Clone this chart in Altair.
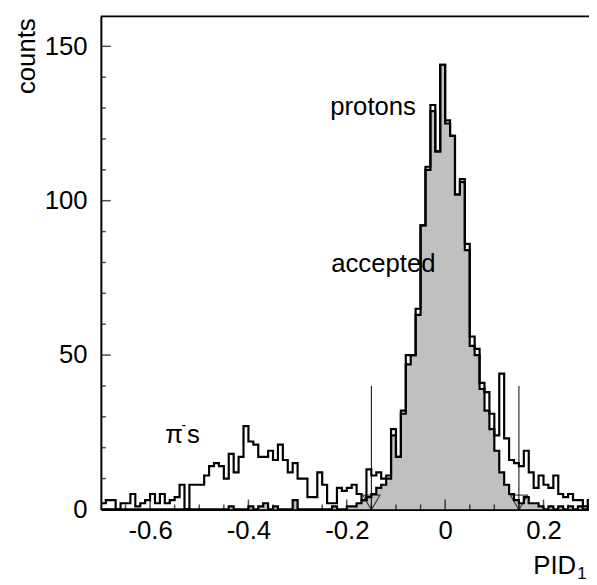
import altair as alt
import pandas as pd

# ---------------- data ----------------
x_start = -0.7
bin_width = 0.01

total_counts = [
    2, 3, 3, 0, 2, 2, 5, 1, 2, 3,
    5, 2, 5, 2, 3, 4, 8, 0, 8, 8,
    8, 11, 14, 15, 14, 10, 18, 12, 17, 27,
    22, 21, 17, 17, 19, 16, 21, 16, 12, 15,
    10, 10, 4, 4, 12, 8, 2, 2, 7, 6,
    7, 8, 5, 3, 13, 11, 12, 10, 11, 26,
    17, 32, 50, 50, 65, 92, 111, 131, 116, 144,
    126, 121, 102, 107, 86, 56, 52, 41, 38, 31,
    24, 44, 23, 16, 15, 14, 19, 12, 7, 11,
    8, 7, 11, 5, 4, 5, 3, 3, 1, 3,
]

accepted_counts = [
    0, 0, 0, 0, 0, 0, 0, 0, 0, 0,
    0, 0, 0, 0, 0, 0, 0, 0, 0, 0,
    0, 0, 0, 0, 0, 0, 1, 0, 0, 0,
    1, 0, 1, 2, 0, 1, 0, 0, 0, 3,
    0, 0, 0, 0, 0, 0, 0, 1, 0, 0,
    1, 1, 2, 3, 4, 5, 7, 8, 10, 24,
    17, 31, 47, 50, 63, 92, 110, 129, 116, 144,
    125, 121, 102, 106, 84, 53, 50, 39, 32, 26,
    19, 12, 8, 5, 3, 2, 4, 2, 2, 1,
    0, 1, 0, 1, 0, 1, 0, 1, 0, 1,
]

cut_positions = [-0.15, 0.15]
cut_height = [40, 40]

x_major = [-0.6, -0.4, -0.2, 0.0, 0.2]
x_minor = [-0.65, -0.55, -0.5, -0.45, -0.35, -0.3, -0.25, -0.15, -0.1, -0.05,
           0.05, 0.1, 0.15, 0.25]
y_major = [0, 50, 100, 150]
y_minor = [10, 20, 30, 40, 60, 70, 80, 90, 110, 120, 130, 140]

label_text = ["protons", "accepted"]
label_x = [-0.2336, -0.2316]
label_y = [127.6, 76.8]

# ---------------- tables ----------------
n = len(total_counts)
edges = [round(x_start + bin_width * i, 4) for i in range(n + 1)]
hist = pd.DataFrame({
    "x": edges,
    "total": total_counts + [total_counts[-1]],
    "accepted": accepted_counts + [accepted_counts[-1]],
})
cuts = pd.DataFrame({"x": cut_positions, "top": cut_height, "zero": [0, 0]})
labels = pd.DataFrame({"text": label_text, "x": label_x, "y": label_y})

W, H = 494, 499
FONT = "Liberation Sans"
FS = 26

xs = alt.Scale(domain=[-0.7, 0.2925], nice=False, zero=False)
ys = alt.Scale(domain=[0, 159.7], nice=False, zero=False)

x_axis = alt.Axis(
    values=x_major, title=None, grid=False, ticks=False, tickSize=0,
    domain=True, domainColor="black", domainWidth=2,
    labelFont=FONT, labelFontSize=FS, labelColor="black", labelPadding=8,
    labelFlush=False, labelOverlap=False,
    labelExpr="datum.value == 0 ? '0' : (datum.value < 0 ? '-' + format(-datum.value, '.1f') : format(datum.value, '.1f'))",
)
y_axis = alt.Axis(
    values=y_major, title=None, grid=False, ticks=False, tickSize=0,
    domain=True, domainColor="black", domainWidth=2,
    labelFont=FONT, labelFontSize=FS, labelColor="black", labelPadding=14,
    labelFlush=False, labelOverlap=False, format="d",
)


def X(f):
    return alt.X(f, scale=xs, axis=x_axis)


def Y(f):
    return alt.Y(f, scale=ys, axis=y_axis)


base = alt.Chart(hist)

area = base.mark_area(interpolate="step-after", color="#c0c0c0", clip=True).encode(
    x=X("x:Q"), y=Y("accepted:Q"),
)
line_acc = base.mark_line(interpolate="step-after", color="black", strokeWidth=2.2, clip=True).encode(
    x=X("x:Q"), y=Y("accepted:Q"),
)
line_tot = base.mark_line(interpolate="step-after", color="black", strokeWidth=2.2, clip=True).encode(
    x=X("x:Q"), y=Y("total:Q"),
)

cut_lines = alt.Chart(cuts).mark_rule(color="black", strokeWidth=1).encode(
    x=X("x:Q"), y=Y("zero:Q"), y2="top:Q",
)
cut_arrows = alt.Chart(cuts).mark_point(
    shape="triangle-down", filled=False, color="black", strokeWidth=1.2, size=300, yOffset=-7
).encode(x=X("x:Q"), y=Y("zero:Q"))

# inward ticks
yt_major = alt.Chart(pd.DataFrame({"v": y_major})).mark_tick(
    orient="horizontal", size=10, thickness=1.5, color="black"
).encode(y=Y("v:Q"), x=alt.value(5))
yt_minor = alt.Chart(pd.DataFrame({"v": y_minor})).mark_tick(
    orient="horizontal", size=5, thickness=1.5, color="black"
).encode(y=Y("v:Q"), x=alt.value(2.5))
xt_major = alt.Chart(pd.DataFrame({"v": x_major})).mark_tick(
    orient="vertical", size=10, thickness=1.5, color="black"
).encode(x=X("v:Q"), y=alt.value(H - 5))
xt_minor = alt.Chart(pd.DataFrame({"v": x_minor})).mark_tick(
    orient="vertical", size=5, thickness=1.5, color="black"
).encode(x=X("v:Q"), y=alt.value(H - 2.5))

top_frame = alt.Chart(pd.DataFrame({"a": [0]})).mark_rule(color="black", strokeWidth=2).encode(
    x=alt.value(0), x2=alt.value(W), y=alt.value(0)
)

text_labels = alt.Chart(labels).mark_text(
    font=FONT, fontSize=FS, align="left", baseline="alphabetic", color="black"
).encode(x=X("x:Q"), y=Y("y:Q"), text="text:N")

pi_df = pd.DataFrame({"text": ["π", "s"], "x": [-0.569, -0.525], "y": [21.4, 21.4]})
pi_text = alt.Chart(pi_df).mark_text(
    font=FONT, fontSize=FS, align="left", baseline="alphabetic", color="black"
).encode(x=X("x:Q"), y=Y("y:Q"), text="text:N")
minus_df = pd.DataFrame({"text": ["-"], "x": [-0.536], "y": [25.6]})
minus_text = alt.Chart(minus_df).mark_text(
    font=FONT, fontSize=14, align="left", baseline="alphabetic", color="black"
).encode(x=X("x:Q"), y=Y("y:Q"), text="text:N")

counts_title = alt.Chart(pd.DataFrame({"t": ["counts"]})).mark_text(
    font=FONT, fontSize=FS, angle=270, align="right", baseline="alphabetic", color="black"
).encode(x=alt.value(-67), y=alt.value(2), text="t:N")

pid_title = alt.Chart(pd.DataFrame({"t": ["PID"]})).mark_text(
    font=FONT, fontSize=FS, align="right", baseline="alphabetic", color="black"
).encode(x=alt.value(481), y=alt.value(564), text="t:N")
pid_sub = alt.Chart(pd.DataFrame({"t": ["1"]})).mark_text(
    font=FONT, fontSize=17, align="left", baseline="alphabetic", color="black"
).encode(x=alt.value(482), y=alt.value(569), text="t:N")

chart = alt.layer(
    area, line_tot, line_acc, cut_lines, cut_arrows,
    yt_major, yt_minor, xt_major, xt_minor, top_frame,
    text_labels, pi_text, minus_text, counts_title, pid_title, pid_sub,
).properties(
    width=W, height=H,
    padding={"left": 94, "top": 5, "right": 0, "bottom": 72},
    autosize=alt.AutoSizeParams(type="none"),
).configure_view(stroke=None).configure(background="white")

chart.save("out.html", embed_options={"renderer": "svg", "actions": False})
